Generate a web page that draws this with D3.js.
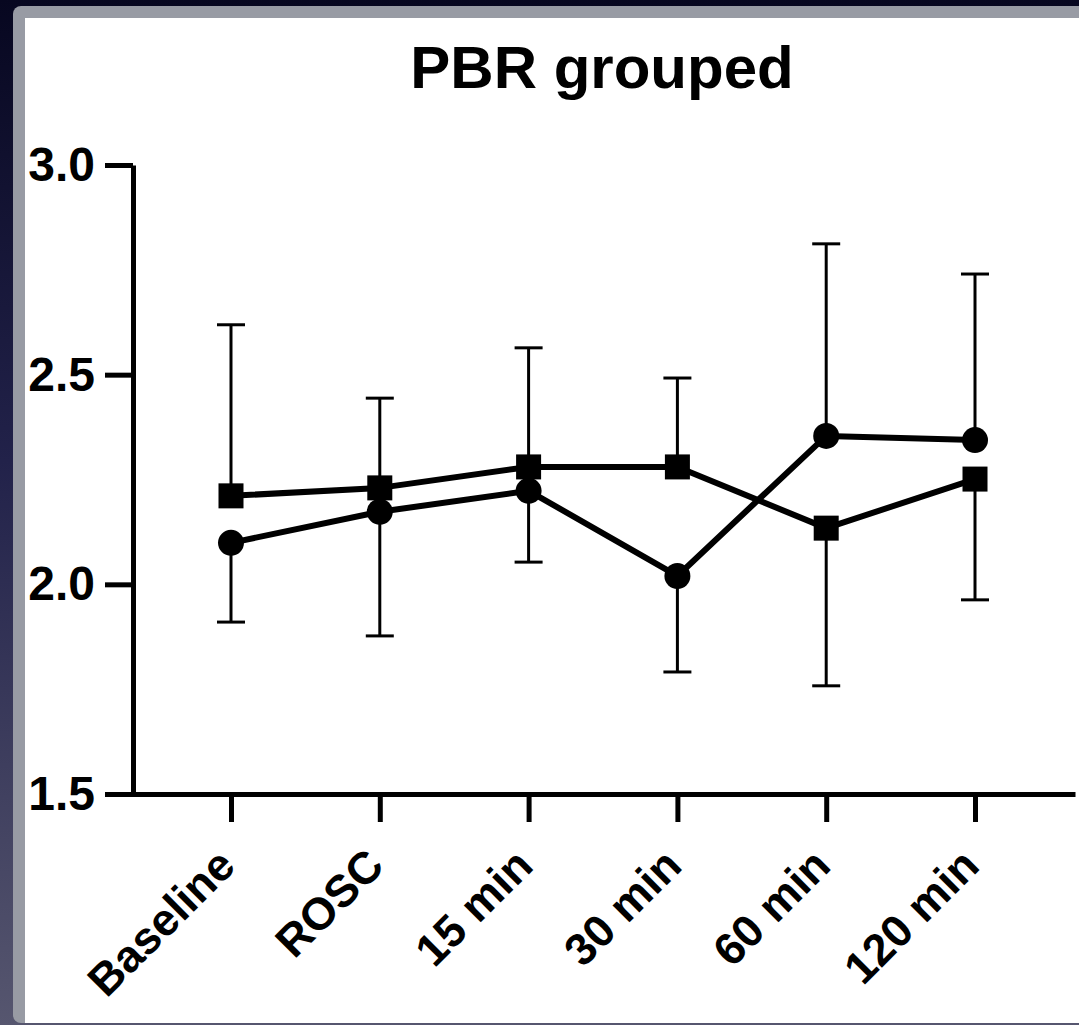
<!DOCTYPE html>
<html>
<head>
<meta charset="utf-8">
<script src="https://cdn.jsdelivr.net/npm/d3@7"></script>
<style>
    body { margin: 0; background: #0b0b24; }
    svg { display: block; }
</style>
</head>
<body>
<svg id="chart"></svg>
<script>
const categories = ["Baseline", "ROSC", "15 min", "30 min", "60 min", "120 min"];
const yTicks = [1.5, 2.0, 2.5, 3.0];

// square markers
const squareMean = [2.211, 2.230, 2.280, 2.280, 2.134, 2.251];
const squareSD = [0.408, 0.214, 0.284, 0.212, 0.376, 0.288];
// circle markers
const circleMean = [2.099, 2.173, 2.223, 2.020, 2.354, 2.344];
const circleSD = [0.189, 0.296, 0.170, 0.229, 0.458, 0.396];

const title = "PBR grouped";

function draw(wrapper) {
    const width = 1079;
    const height = 1025;
    const svg = d3.select(wrapper)
        .attr("width", width)
        .attr("height", height)
        .attr("viewBox", [0, 0, width, height]);

    // dark backdrop + grey frame round the white panel
    const defs = svg.append("defs");
    const grad = defs.append("linearGradient")
        .attr("id", "bg")
        .attr("x1", 0).attr("y1", 0).attr("x2", 0).attr("y2", 1);
    grad.append("stop").attr("offset", "0%").attr("stop-color", "#070720");
    grad.append("stop").attr("offset", "45%").attr("stop-color", "#22224a");
    grad.append("stop").attr("offset", "100%").attr("stop-color", "#56566f");
    svg.append("rect").attr("width", width).attr("height", height).attr("fill", "url(#bg)");
    svg.append("rect")
        .attr("x", 13).attr("y", 6)
        .attr("width", width + 20).attr("height", height - 8)
        .attr("rx", 8)
        .attr("fill", "#989ba4");
    svg.append("rect")
        .attr("x", 25).attr("y", 18)
        .attr("width", width - 25).attr("height", height - 20)
        .attr("fill", "white");

    const x = d3.scalePoint()
        .domain(categories)
        .range([131, 1075])
        .padding(0.672);

    const y = d3.scaleLinear()
        .domain([1.5, 3.0])
        .range([794, 165]);

    svg.append("text")
        .attr("x", 602)
        .attr("y", 88)
        .attr("text-anchor", "middle")
        .style("font", "bold 60px 'Liberation Sans', Arial, sans-serif")
        .attr("fill", "black")
        .text(title);

    const series = [
        {mean: squareMean, sd: squareSD, other: circleMean, shape: "square"},
        {mean: circleMean, sd: circleSD, other: squareMean, shape: "circle"}
    ];

    // one-sided error bars, pointing away from the other group
    const bars = [];
    for (let s of series) {
        categories.forEach((c, i) => {
            const dir = s.mean[i] >= s.other[i] ? 1 : -1;
            bars.push({cat: c, from: s.mean[i], to: s.mean[i] + dir * s.sd[i]});
        });
    }

    const eb = svg.append("g")
        .attr("stroke", "black")
        .attr("stroke-width", 3)
        .selectAll("g")
        .data(bars)
        .join("g");
    eb.append("line")
        .attr("x1", d => x(d.cat)).attr("x2", d => x(d.cat))
        .attr("y1", d => y(d.from)).attr("y2", d => y(d.to));
    eb.append("line")
        .attr("x1", d => x(d.cat) - 14).attr("x2", d => x(d.cat) + 14)
        .attr("y1", d => y(d.to)).attr("y2", d => y(d.to));

    const line = d3.line()
        .x((d, i) => x(categories[i]))
        .y(d => y(d));

    svg.append("g")
        .selectAll("path")
        .data(series)
        .join("path")
        .attr("fill", "none")
        .attr("stroke", "black")
        .attr("stroke-width", 6)
        .attr("stroke-linejoin", "round")
        .attr("d", d => line(d.mean));

    // markers
    const sq = 25;
    svg.append("g")
        .selectAll("rect")
        .data(squareMean)
        .join("rect")
        .attr("x", (d, i) => x(categories[i]) - sq / 2)
        .attr("y", d => y(d) - sq / 2)
        .attr("width", sq)
        .attr("height", sq)
        .attr("fill", "black");

    svg.append("g")
        .selectAll("circle")
        .data(circleMean)
        .join("circle")
        .attr("cx", (d, i) => x(categories[i]))
        .attr("cy", d => y(d))
        .attr("r", 13)
        .attr("fill", "black");

    // axes
    const yAxis = g => g
        .attr("transform", "translate(133,0)")
        .call(d3.axisLeft(y).tickValues(yTicks).tickFormat(d3.format(".1f")).tickSize(28).tickSizeOuter(0).tickPadding(10))
        .call(g => g.selectAll("line, path").attr("stroke", "black").attr("stroke-width", 5))
        .call(g => g.selectAll("text")
            .attr("fill", "black")
            .style("font", "bold 48px 'Liberation Sans', Arial, sans-serif"));

    const xAxis = g => g
        .attr("transform", "translate(0,794)")
        .call(d3.axisBottom(x).tickSize(28).tickSizeOuter(0))
        .call(g => g.selectAll("line, path").attr("stroke", "black").attr("stroke-width", 5))
        .call(g => g.selectAll("text")
            .attr("fill", "black")
            .attr("text-anchor", "end")
            .attr("x", 0).attr("y", 0).attr("dy", 0)
            .attr("transform", "translate(6,74) rotate(-45)")
            .style("font", "bold 45px 'Liberation Sans', Arial, sans-serif"));

    svg.append("g").call(xAxis);
    svg.append("g").call(yAxis);

    return svg.node();
}

draw("#chart");
</script>
</body>
</html>
